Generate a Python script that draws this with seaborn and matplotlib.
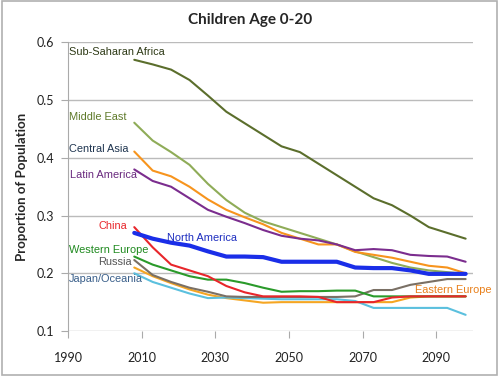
import pandas as pd
import seaborn as sns
import matplotlib.pyplot as plt
from matplotlib.patches import Rectangle

years = [2008, 2013, 2018, 2023, 2028, 2033, 2038, 2043, 2048, 2053,
         2058, 2063, 2068, 2073, 2078, 2083, 2088, 2093, 2098]

eastern_europe = [0.210, 0.195, 0.183, 0.172, 0.163, 0.157, 0.153, 0.149, 0.150, 0.150,
                  0.150, 0.150, 0.150, 0.150, 0.150, 0.158, 0.160, 0.160, 0.160]
sub_saharan = [0.570, 0.562, 0.553, 0.535, 0.508, 0.480, 0.460, 0.440, 0.420, 0.410,
               0.390, 0.370, 0.350, 0.330, 0.318, 0.300, 0.280, 0.270, 0.260]
middle_east = [0.461, 0.430, 0.410, 0.388, 0.355, 0.327, 0.305, 0.290, 0.280, 0.270,
               0.260, 0.250, 0.238, 0.228, 0.218, 0.210, 0.205, 0.202, 0.199]
central_asia = [0.411, 0.378, 0.368, 0.350, 0.328, 0.310, 0.297, 0.285, 0.270, 0.260,
                0.250, 0.250, 0.237, 0.232, 0.227, 0.220, 0.213, 0.210, 0.200]
latin_america = [0.380, 0.360, 0.350, 0.330, 0.310, 0.298, 0.287, 0.275, 0.265, 0.260,
                 0.257, 0.250, 0.240, 0.242, 0.240, 0.232, 0.230, 0.229, 0.220]
china = [0.280, 0.245, 0.215, 0.205, 0.195, 0.178, 0.167, 0.160, 0.160, 0.160,
         0.159, 0.150, 0.150, 0.150, 0.158, 0.160, 0.160, 0.160, 0.160]
western_europe = [0.229, 0.215, 0.205, 0.195, 0.189, 0.189, 0.183, 0.175, 0.168, 0.169,
                  0.169, 0.170, 0.170, 0.160, 0.160, 0.160, 0.160, 0.160, 0.160]
russia = [0.223, 0.197, 0.185, 0.175, 0.168, 0.160, 0.159, 0.159, 0.159, 0.159,
          0.159, 0.159, 0.160, 0.171, 0.171, 0.180, 0.185, 0.190, 0.190]
japan_oceania = [0.200, 0.185, 0.175, 0.165, 0.157, 0.158, 0.157, 0.156, 0.155, 0.155,
                 0.155, 0.155, 0.152, 0.140, 0.140, 0.140, 0.140, 0.140, 0.128]
north_america = [0.270, 0.260, 0.253, 0.248, 0.238, 0.229, 0.229, 0.228, 0.220, 0.220,
                 0.220, 0.220, 0.210, 0.209, 0.209, 0.205, 0.199, 0.199, 0.199]

series = {
    'Eastern Europe': eastern_europe,
    'Sub-Saharan Africa': sub_saharan,
    'Middle East': middle_east,
    'Central Asia': central_asia,
    'Latin America': latin_america,
    'Japan/Oceania': japan_oceania,
    'Russia': russia,
    'Western Europe': western_europe,
    'China': china,
    'North America': north_america,
}

line_colors = {
    'Eastern Europe': '#f5a623',
    'Sub-Saharan Africa': '#5b6e2c',
    'Middle East': '#8fac58',
    'Central Asia': '#f7941d',
    'Latin America': '#7b2d8e',
    'Japan/Oceania': '#5bc0de',
    'Russia': '#7a7065',
    'Western Europe': '#2a9a2a',
    'China': '#e8262b',
    'North America': '#1a2ee8',
}

# label text, colour, (year, value) anchor of the label's left edge
labels = [
    ('Sub-Saharan Africa', '#2e3a16', 1990.4, 0.583),
    ('Middle East', '#5f7a2a', 1990.4, 0.471),
    ('Central Asia', '#1f3550', 1990.4, 0.416),
    ('Latin America', '#6a2a7f', 1990.6, 0.371),
    ('China', '#e8262b', 1998.2, 0.282),
    ('North America', '#1f2fc0', 2016.8, 0.261),
    ('Western Europe', '#1f8a1f', 1990.4, 0.241),
    ('Russia', '#555555', 1998.2, 0.220),
    ('Japan/Oceania', '#3a5f8a', 1990.2, 0.190),
    ('Eastern Europe', '#e8801c', 2084.3, 0.171),
]

rows = []
for name, vals in series.items():
    for y, v in zip(years, vals):
        rows.append({'year': y, 'share': v, 'region': name})
df = pd.DataFrame(rows)

sns.set_style('white')
plt.rcParams['font.family'] = ['Liberation Sans', 'DejaVu Sans']

fig = plt.figure(figsize=(5.0, 3.76), dpi=100)
ax = fig.add_axes([0.136, 0.1197, 0.81, 0.7673])

for name in series:
    sub = df[df.region == name]
    sns.lineplot(data=sub, x='year', y='share', ax=ax, color=line_colors[name],
                 lw=3.0 if name == 'North America' else 1.5, legend=False)

for text, c, x, y in labels:
    ax.text(x, y, text, color=c, fontsize=7.9, va='center', ha='left')

ax.set_xlim(1990, 2100)
ax.set_ylim(0.1, 0.6)
ax.set_xticks([1990, 2010, 2030, 2050, 2070, 2090])
ax.set_yticks([0.1, 0.2, 0.3, 0.4, 0.5, 0.6])
ax.yaxis.grid(True, color='#bbbbbb', lw=1.0)
ax.set_axisbelow(True)
for s in ['top', 'right', 'bottom']:
    ax.spines[s].set_visible(False)
ax.spines['left'].set_color('#aaaaaa')
ax.tick_params(axis='x', length=5, color='#aaaaaa', direction='out', pad=10,
               labelsize=9, labelcolor='#222222', bottom=True)
ax.tick_params(axis='y', length=5, color='#aaaaaa', direction='out', pad=5,
               labelsize=9, labelcolor='#222222', left=True)
for lab in ax.get_xticklabels() + ax.get_yticklabels():
    lab.set_family(['Lato', 'DejaVu Sans'])
ax.set_xlabel('')
ax.set_ylabel('Proportion of Population', fontsize=9.5, fontweight='bold',
              family=['Lato', 'DejaVu Sans'])
ax.yaxis.set_label_coords(-0.098, 0.5)

fig.text(0.5, 0.947, 'Children Age 0-20', ha='center', va='center', fontsize=11,
         fontweight='bold', family=['Lato', 'DejaVu Sans'])

fig.patches.append(Rectangle((0.004, 0.003), 0.99, 0.994, transform=fig.transFigure,
                             fill=False, edgecolor='#b0b0b0', lw=1.2))

fig.savefig('out.png', dpi=100)
